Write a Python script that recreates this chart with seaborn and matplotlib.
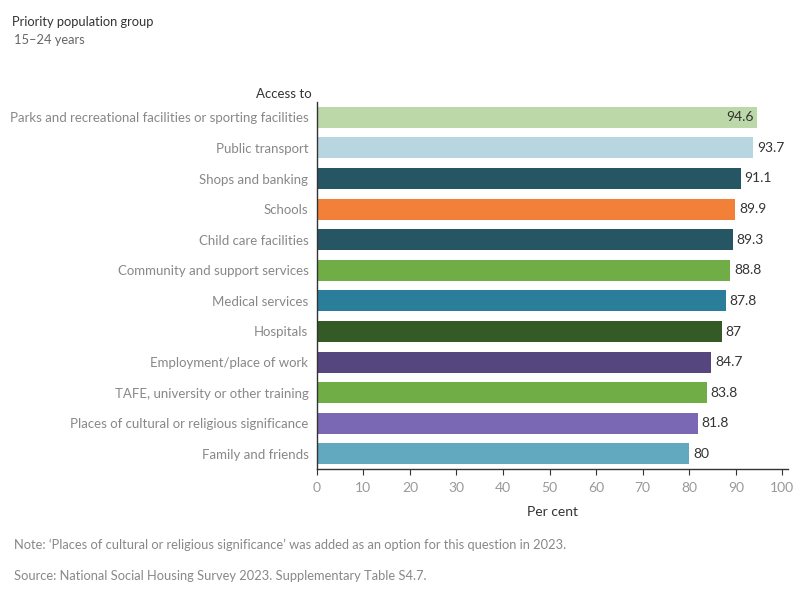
import matplotlib
matplotlib.use("Agg")
import matplotlib.pyplot as plt
import seaborn as sns
import pandas as pd

categories = [
    "Parks and recreational facilities or sporting facilities",
    "Public transport",
    "Shops and banking",
    "Schools",
    "Child care facilities",
    "Community and support services",
    "Medical services",
    "Hospitals",
    "Employment/place of work",
    "TAFE, university or other training",
    "Places of cultural or religious significance",
    "Family and friends",
]
values = [94.6, 93.7, 91.1, 89.9, 89.3, 88.8, 87.8, 87, 84.7, 83.8, 81.8, 80]
value_labels = ["94.6", "93.7", "91.1", "89.9", "89.3", "88.8", "87.8", "87", "84.7", "83.8", "81.8", "80"]
colors = ["#bcd8a8", "#b7d6e0", "#265664", "#f28039", "#265664", "#70ad47",
          "#2b7e99", "#345a26", "#55467f", "#70ad47", "#7b68b5", "#62a8bf"]

df = pd.DataFrame({"category": categories, "value": values})

sns.set_theme(style="white")
plt.rcParams["font.family"] = ["Lato", "DejaVu Sans"]

fig = plt.figure(figsize=(8, 6), dpi=100)
ax = fig.add_axes([0.396, 0.218, 0.589, 0.612])

sns.barplot(data=df, x="value", y="category", hue="category", palette=colors,
            legend=False, width=0.69, saturation=1, linewidth=0, ax=ax)

for i, (v, lab) in enumerate(zip(values, value_labels)):
    if i == 0:
        ax.text(v - 0.8, i, lab, ha="right", va="center", fontsize=10, color="#333333")
    else:
        ax.text(v + 0.8, i, lab, ha="left", va="center", fontsize=10, color="#333333")

ax.set_xlim(0, 101.2)
ax.set_ylim(11.5, -0.5)
ax.set_xticks(range(0, 101, 10))
ax.tick_params(axis="x", color="#333333", labelsize=10, length=4, width=0.8, direction="out",
               bottom=True, labelcolor="#999999", pad=5)
ax.tick_params(axis="y", labelsize=9.5, labelcolor="#888888", length=0, pad=6)
ax.set_ylabel("")
ax.set_xlabel("Per cent", fontsize=10, color="#333333", labelpad=9)
for s in ["top", "right"]:
    ax.spines[s].set_visible(False)
for s in ["left", "bottom"]:
    ax.spines[s].set_color("#333333")
    ax.spines[s].set_linewidth(1)

fig.text(0.015, 0.963, "Priority population group", fontsize=9.3, color="#333333", va="center")
fig.text(0.018, 0.934, "15\u201324 years", fontsize=9.3, color="#666666", va="center")
fig.text(0.389, 0.843, "Access to", fontsize=9.5, color="#333333", ha="right", va="center")
fig.text(0.0175, 0.092, "Note: \u2018Places of cultural or religious significance\u2019 was added as an option for this question in 2023.",
         fontsize=9.25, color="#888888", va="center")
fig.text(0.0175, 0.04, "Source: National Social Housing Survey 2023. Supplementary Table S4.7.",
         fontsize=9.25, color="#888888", va="center")

fig.savefig("out.png", dpi=100)
